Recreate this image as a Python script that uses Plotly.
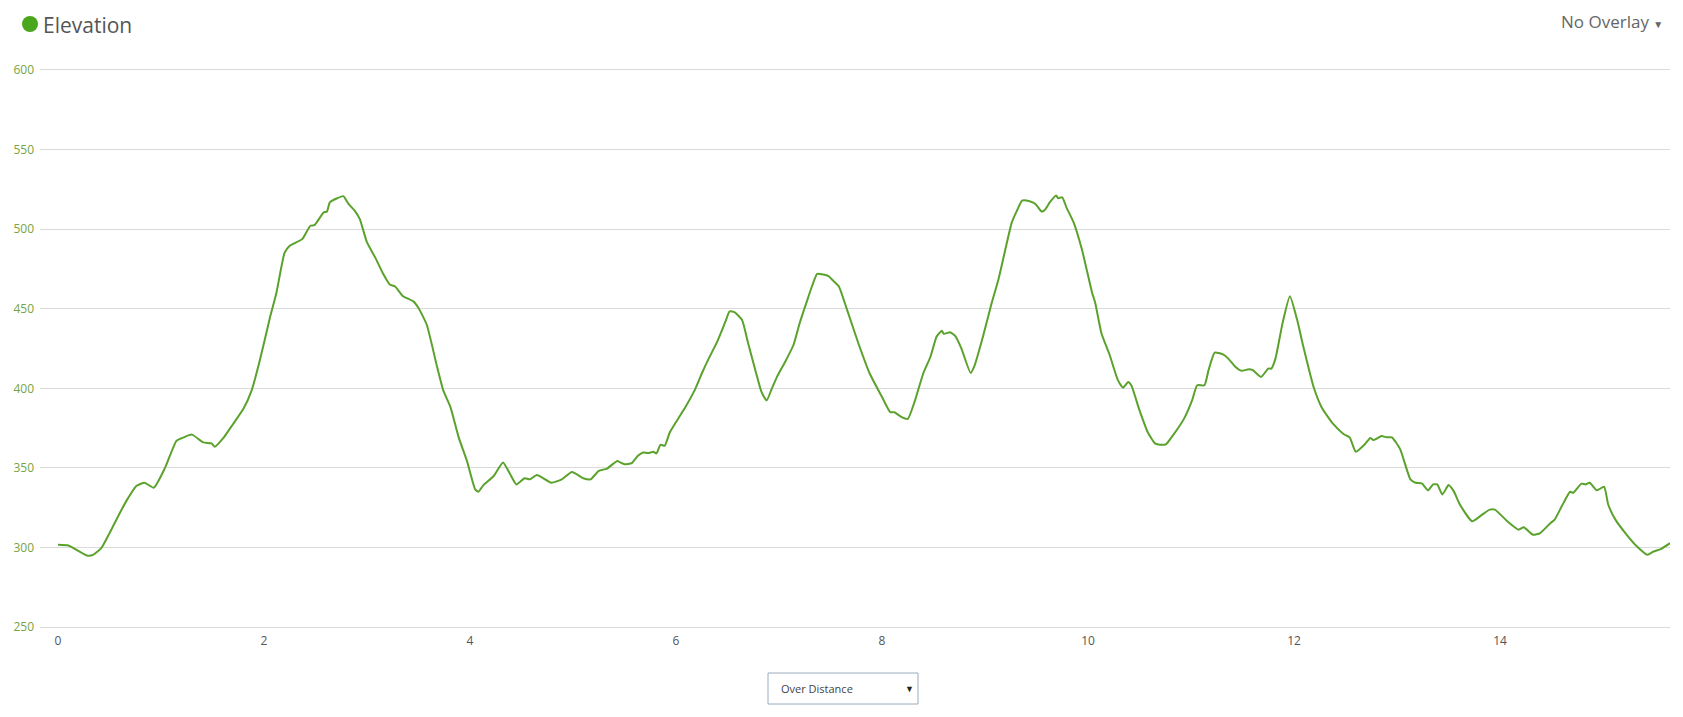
import plotly.graph_objects as go

# Distance (km) and elevation (m)
distance = [0.00, 0.10, 0.15, 0.28, 0.34, 0.42, 0.50, 0.60, 0.68, 0.76, 0.84, 0.93, 1.04, 1.15, 1.22, 1.30,
            1.41, 1.49, 1.52, 1.61, 1.70, 1.80, 1.88, 1.96, 2.06, 2.12, 2.20, 2.25, 2.37, 2.45, 2.49, 2.58,
            2.61, 2.64, 2.71, 2.77, 2.82, 2.88, 2.93, 3.00, 3.08, 3.16, 3.22, 3.27, 3.35, 3.45, 3.50, 3.58,
            3.68, 3.74, 3.81, 3.89, 3.97, 4.05, 4.08, 4.13, 4.23, 4.32, 4.39, 4.45, 4.53, 4.58, 4.65, 4.79,
            4.89, 4.99, 5.10, 5.17, 5.25, 5.33, 5.43, 5.46, 5.50, 5.57, 5.63, 5.68, 5.73, 5.78, 5.81, 5.85,
            5.89, 5.94, 6.04, 6.10, 6.18, 6.25, 6.31, 6.40, 6.48, 6.52, 6.57, 6.64, 6.70, 6.77, 6.83, 6.88,
            6.93, 6.98, 7.06, 7.14, 7.20, 7.27, 7.32, 7.37, 7.43, 7.48, 7.53, 7.58, 7.66, 7.77, 7.88, 8.00,
            8.08, 8.12, 8.19, 8.25, 8.32, 8.40, 8.47, 8.53, 8.58, 8.60, 8.66, 8.71, 8.77, 8.86, 8.90, 8.98,
            9.06, 9.13, 9.19, 9.26, 9.31, 9.36, 9.44, 9.49, 9.55, 9.58, 9.63, 9.69, 9.71, 9.75, 9.79, 9.86,
            9.94, 10.04, 10.07, 10.13, 10.21, 10.29, 10.34, 10.39, 10.42, 10.50, 10.58, 10.65, 10.70, 10.76,
            10.81, 10.88, 10.94, 11.01, 11.06, 11.13, 11.17, 11.23, 11.31, 11.36, 11.43, 11.49, 11.56, 11.60,
            11.68, 11.75, 11.78, 11.82, 11.89, 11.96, 12.03, 12.09, 12.19, 12.27, 12.38, 12.48, 12.54, 12.60,
            12.69, 12.74, 12.77, 12.85, 12.90, 12.95, 13.03, 13.13, 13.18, 13.24, 13.30, 13.35, 13.39, 13.44,
            13.50, 13.55, 13.61, 13.73, 13.82, 13.90, 13.95, 14.07, 14.18, 14.23, 14.32, 14.39, 14.49, 14.53,
            14.60, 14.68, 14.71, 14.79, 14.83, 14.87, 14.94, 15.01, 15.05, 15.12, 15.23, 15.33, 15.43, 15.49,
            15.56, 15.65]
elevation = [301.7, 301.3, 299.6, 295.0, 295.4, 299.6, 309.0, 321.7, 331.0, 338.6, 340.7, 337.6, 350.2, 367.0, 369.2, 370.9,
             366.0, 365.4, 363.3, 369.2, 377.6, 387.1, 398.7, 417.7, 445.1, 459.9, 485.2, 489.5, 493.7, 502.1, 502.5, 510.5,
             510.9, 516.9, 519.4, 520.7, 515.8, 511.6, 506.3, 491.6, 482.1, 471.5, 465.2, 464.1, 457.8, 454.6, 450.4, 439.9,
             413.5, 398.7, 388.2, 369.2, 354.4, 336.5, 335.0, 339.2, 344.9, 353.4, 346.0, 339.6, 343.5, 342.8, 345.6, 340.7,
             342.8, 347.5, 343.5, 342.8, 348.1, 349.6, 354.4, 353.4, 352.3, 353.0, 357.6, 359.7, 359.3, 360.1, 359.1, 364.6,
             363.9, 372.4, 382.9, 389.2, 398.7, 409.3, 417.7, 429.3, 442.0, 448.3, 447.7, 443.0, 428.3, 411.4, 397.7, 392.4,
             399.8, 407.2, 416.7, 427.2, 440.9, 454.6, 464.1, 471.9, 471.5, 470.5, 467.3, 464.1, 449.4, 428.3, 409.3, 394.5,
             385.0, 385.0, 381.9, 380.8, 392.4, 409.3, 419.8, 432.5, 436.1, 434.2, 435.2, 432.9, 425.1, 409.7, 414.6, 432.5,
             452.5, 468.4, 485.2, 504.2, 511.6, 517.9, 517.3, 515.8, 511.0, 512.0, 516.9, 521.1, 519.4, 520.0, 513.7, 504.2,
             487.3, 459.9, 453.6, 434.6, 420.9, 405.1, 400.4, 404.0, 401.9, 386.1, 372.4, 365.4, 364.6, 365.0,
             369.2, 375.5, 381.9, 392.4, 401.9, 401.9, 411.4, 422.4, 421.3, 418.8, 413.5, 411.0, 412.0, 411.4,
             407.2, 412.4, 412.4, 418.8, 441.4, 457.8, 443.0, 426.2, 400.8, 387.8, 377.6, 371.3, 369.2, 360.1,
             365.0, 368.8, 367.5, 370.0, 369.2, 369.2, 361.8, 342.8, 340.7, 340.3, 335.9, 339.6, 339.6, 333.3,
             339.2, 335.4, 327.0, 316.5, 320.3, 323.8, 323.8, 316.5, 311.2, 312.7, 308.0, 309.1, 315.4, 317.5,
             326.0, 335.0, 334.4, 340.1, 339.6, 340.7, 335.9, 338.2, 327.0, 317.5, 308.0, 300.6, 295.4, 297.5,
             299.0, 302.7]

y_ticks = [250, 300, 350, 400, 450, 500, 550, 600]
x_ticks = [0, 2, 4, 6, 8, 10, 12, 14]

# page body has an 8px margin, so the figure is drawn offset by 8px
OFF = 8
W, H = 1667, 701
L, R, T, B = 32, 5, 60, 80
pw, ph = W - L - R, H - T - B


def px(x):  # page pixel -> paper x
    return (x - OFF - L) / pw


def py(y):  # page pixel -> paper y
    return (H - B - (y - OFF)) / ph


fig = go.Figure()
fig.add_trace(go.Scatter(
    x=distance, y=elevation, mode="lines",
    line=dict(color="#5aa22c", width=2, shape="spline", smoothing=0.5),
    hoverinfo="x+y", showlegend=False,
))

fig.update_layout(
    width=W, height=H,
    margin=dict(l=L, r=R, t=T, b=B, autoexpand=False),
    paper_bgcolor="white", plot_bgcolor="white",
    font=dict(family="Open Sans, sans-serif"),
    xaxis=dict(
        range=[-0.175, 15.65], tickvals=x_ticks, showgrid=False, zeroline=False,
        showline=False, ticks="", tickfont=dict(size=12, color="#555555"),
        fixedrange=True, automargin=False, ticklabelstandoff=3,
    ),
    yaxis=dict(
        range=[248.8, 601.2], tickvals=y_ticks, showgrid=True, gridcolor="#dadada",
        gridwidth=1, zeroline=False, showline=False, ticks="",
        tickfont=dict(size=12, color="#78a345"), fixedrange=True, automargin=False,
        ticklabelstandoff=5,
    ),
    shapes=[
        # title dot
        dict(type="circle", xref="paper", yref="paper",
             x0=px(22), x1=px(38), y0=py(32), y1=py(16),
             fillcolor="#4aa61c", line=dict(width=0)),
        # dropdown box
        dict(type="rect", xref="paper", yref="paper",
             x0=px(768), x1=px(918), y0=py(704), y1=py(673),
             fillcolor="white", line=dict(color="#9aaabb", width=1)),
    ],
    annotations=[
        dict(text="Elevation", xref="paper", yref="paper", x=px(41), y=py(25),
             xanchor="left", yanchor="middle", showarrow=False,
             font=dict(size=21, color="#555555", family="Open Sans, sans-serif")),
        dict(text="No Overlay <span style='font-size:10px'>\u25bc</span>", xref="paper", yref="paper",
             x=px(1665), y=py(22),
             xanchor="right", yanchor="middle", showarrow=False,
             font=dict(size=17, color="#666666", family="Open Sans, sans-serif")),
        dict(text="Over Distance", xref="paper", yref="paper", x=px(779), y=py(688),
             xanchor="left", yanchor="middle", showarrow=False,
             font=dict(size=11, color="#444444", family="Open Sans, sans-serif")),
        dict(text="\u25bc", xref="paper", yref="paper", x=px(909), y=py(688),
             xanchor="center", yanchor="middle", showarrow=False,
             font=dict(size=9, color="#222222")),
    ],
)

fig.write_html("out.html")
